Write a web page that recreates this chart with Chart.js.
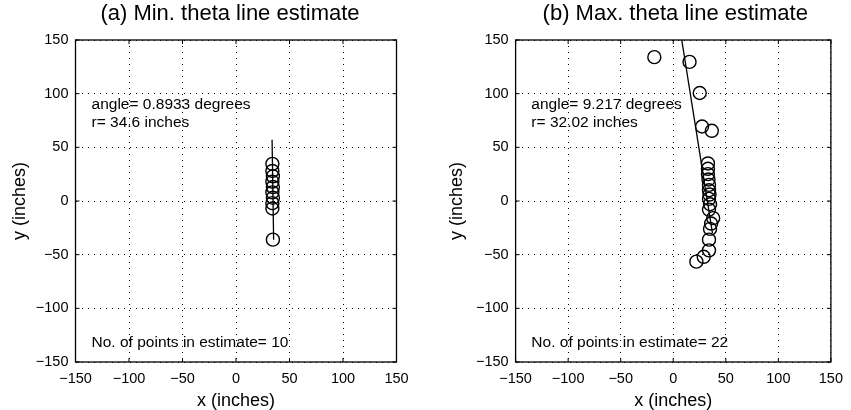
<!DOCTYPE html>
<html>
<head>
<meta charset="utf-8">
<script src="https://cdn.jsdelivr.net/npm/chart.js@4.4.1/dist/chart.umd.min.js"></script>
<style>
  body { margin: 0; background: #fff; }
  .panel { position: absolute; top: 0; height: 410px; }
</style>
</head>
<body>
<div class="panel" style="left:0;width:425px"><canvas id="plotA" width="425" height="410"></canvas></div>
<div class="panel" style="left:425px;width:426px"><canvas id="plotB" width="426" height="410"></canvas></div>
<script>
// tick values shared by both axes
const tickValues = [-150, -100, -50, 0, 50, 100, 150];

// (a) min theta estimate
const ptsAx = [34, 34, 34.5, 34, 34.5, 34, 34.5, 34, 34, 34.5];
const ptsAy = [34.6, 28, 23, 18, 13, 8, 3, -2, -7, -36];
const lineA = { angle: 0.8933, r: 34.6 };
const lineAy = [57, -36];

// (b) max theta estimate
const ptsBx = [-18, 15.5, 25.2, 27.4, 36.7, 33, 33, 33, 33.5, 34, 34, 34.5, 34, 35, 34, 38, 36, 35, 34, 34, 29, 22];
const ptsBy = [134, 129.6, 100.6, 69.4, 65.4, 35, 30, 25, 20, 15, 10, 6, 2, -3, -8, -16, -21, -26, -36, -46, -52, -56.5];
const lineB = { angle: 9.217, r: 32.02 };
const lineBy = [160, -30];

const font = 'Liberation Sans, Arial, Helvetica, sans-serif';

// points on the line x cos(t) + y sin(t) = r
function linePoints(l, ys) {
  const t = l.angle * Math.PI / 180;
  return ys.map(y => ({ x: (l.r - y * Math.sin(t)) / Math.cos(t), y: y }));
}

const boxPlugin = {
  id: 'box',
  afterDraw(chart, args, opts) {
    const { ctx, chartArea: a, scales } = chart;
    ctx.save();
    ctx.strokeStyle = '#000';
    ctx.lineWidth = 1.3;
    ctx.strokeRect(a.left, a.top, a.right - a.left, a.bottom - a.top);
    // inward tick marks
    ctx.lineWidth = 1;
    ctx.beginPath();
    tickValues.forEach(v => {
      const px = scales.x.getPixelForValue(v);
      const py = scales.y.getPixelForValue(v);
      ctx.moveTo(px, a.bottom); ctx.lineTo(px, a.bottom - 4);
      ctx.moveTo(px, a.top); ctx.lineTo(px, a.top + 4);
      ctx.moveTo(a.left, py); ctx.lineTo(a.left + 4, py);
      ctx.moveTo(a.right, py); ctx.lineTo(a.right - 4, py);
    });
    ctx.stroke();
    // panel title
    ctx.fillStyle = '#000';
    ctx.font = '22px ' + font;
    ctx.textAlign = 'center';
    ctx.textBaseline = 'middle';
    ctx.fillText(opts.title, (a.left + a.right) / 2 - opts.titleShift, 14);
    // notes inside the plot
    ctx.font = '15.5px ' + font;
    ctx.textAlign = 'left';
    opts.notes.forEach(n => {
      ctx.fillText(n.text, scales.x.getPixelForValue(n.x), scales.y.getPixelForValue(n.y));
    });
    ctx.restore();
  }
};

function axis(title, isX, fitSize) {
  return {
    type: 'linear',
    min: -150, max: 150,
    afterFit(s) { if (isX) s.height = fitSize; else s.width = fitSize; },
    afterBuildTicks(s) { s.ticks = tickValues.map(v => ({ value: v })); },
    ticks: {
      color: '#000',
      padding: isX ? 8 : 7,
      font: { family: font, size: 14.5 },
      callback: v => String(v).replace('-', '\u2212')
    },
    grid: { color: '#000', lineWidth: 1, drawTicks: false },
    border: { display: false, dash: [1, 5] },
    title: {
      display: true, text: title, color: '#000',
      font: { family: font, size: 18, lineHeight: 1 },
      padding: 0
    }
  };
}

function makeChart(id, xs, ys, line, lineYs, cfg) {
  new Chart(document.getElementById(id), {
    type: 'scatter',
    data: {
      datasets: [
        {
          data: linePoints(line, lineYs),
          showLine: true, borderColor: '#000', borderWidth: 1.3,
          pointRadius: 0, fill: false
        },
        {
          data: xs.map((x, i) => ({ x: x, y: ys[i] })),
          pointStyle: 'circle', pointRadius: 6.5,
          borderColor: '#000', borderWidth: 1.4,
          backgroundColor: 'rgba(0,0,0,0)'
        }
      ]
    },
    options: {
      responsive: false,
      animation: false,
      layout: { padding: cfg.padding },
      scales: {
        x: axis('x (inches)', true, 48),
        y: axis('y (inches)', false, cfg.yWidth)
      },
      plugins: {
        legend: { display: false },
        tooltip: { enabled: false },
        box: { title: cfg.title, titleShift: cfg.titleShift, notes: cfg.notes }
      }
    },
    plugins: [boxPlugin]
  });
}

makeChart('plotA', ptsAx, ptsAy, lineA, lineAy, {
  padding: { left: 11, right: 28.5, top: 40, bottom: 0 },
  yWidth: 64.5,
  title: '(a) Min. theta line estimate',
  titleShift: 6,
  notes: [
    { text: 'angle= 0.8933 degrees', x: -135, y: 90 },
    { text: 'r= 34.6 inches', x: -135, y: 73 },
    { text: 'No. of points in estimate= 10', x: -135, y: -132 }
  ]
});

makeChart('plotB', ptsBx, ptsBy, lineB, lineBy, {
  padding: { left: 23, right: 15, top: 40, bottom: 0 },
  yWidth: 67.6,
  title: '(b) Max. theta line estimate',
  titleShift: -2,
  notes: [
    { text: 'angle= 9.217 degrees', x: -135, y: 90 },
    { text: 'r= 32.02 inches', x: -135, y: 73 },
    { text: 'No. of points in estimate= 22', x: -135, y: -132 }
  ]
});
</script>
</body>
</html>
